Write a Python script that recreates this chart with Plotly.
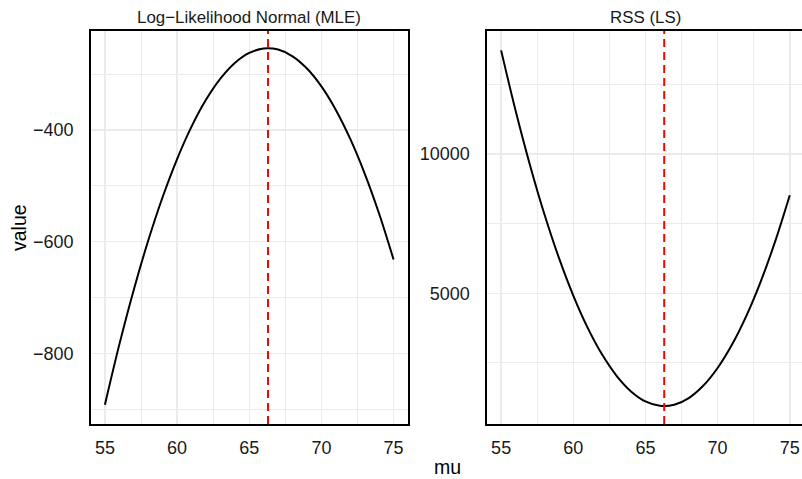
import plotly.graph_objects as go

# ---- data ----
mu = [55, 56, 57, 58, 59, 60, 61, 62, 63, 64, 65, 66, 67, 68, 69, 70, 71, 72, 73, 74, 75]
loglik = [-892, -784, -686, -598, -520, -452, -394, -346, -308, -280, -262, -254,
          -256, -268, -290, -322, -364, -416, -478, -550, -632]
rss = [13720, 11560, 9600, 7840, 6280, 4920, 3760, 2800, 2040, 1480, 1120, 960,
       1000, 1240, 1680, 2320, 3160, 4200, 5440, 6880, 8520]
mu_hat = 66.3

panel_titles = ["Log\u2212Likelihood Normal (MLE)", "RSS (LS)"]
x_ticks = [55, 60, 65, 70, 75]
x_ticktext = ["55", "60", "65", "70", "75"]
ll_ticks = [-800, -600, -400]
ll_ticktext = ["\u2212800", "\u2212600", "\u2212400"]
rss_ticks = [5000, 10000]
rss_ticktext = ["5000", "10000"]

W, H = 802, 479
FONT = "Liberation Sans, Arial, Helvetica, sans-serif"
GRID = "#EBEBEB"

# panel pixel geometry
p1_l, p1_r = 90.5, 408.0
p2_l = 486.7
top, bot = 31.0, 424.0
px_per_unit = (p1_r - p1_l) / 22.0
p2_xmax = 54 + (W - p2_l) / px_per_unit

fig = go.Figure()
fig.add_trace(go.Scatter(x=mu, y=loglik, mode="lines", line=dict(color="black", width=2, shape="spline"),
                         xaxis="x", yaxis="y", showlegend=False, hoverinfo="skip"))
fig.add_trace(go.Scatter(x=mu, y=rss, mode="lines", line=dict(color="black", width=2, shape="spline"),
                         xaxis="x2", yaxis="y2", showlegend=False, hoverinfo="skip"))

tickfont = dict(family=FONT, size=18, color="#1a1a1a")

common_x = dict(
    tickvals=x_ticks, ticktext=x_ticktext, tickfont=tickfont,
    ticks="outside", ticklen=7, tickcolor="rgba(0,0,0,0)",
    showgrid=True, gridcolor=GRID, gridwidth=1.5,
    minor=dict(tick0=57.5, dtick=5, showgrid=True, gridcolor=GRID, gridwidth=1),
    zeroline=False, showline=True, linecolor="black", linewidth=1.8,
    automargin=False, fixedrange=True,
)

fig.update_layout(
    width=W, height=H,
    margin=dict(l=0, r=0, t=0, b=0),
    paper_bgcolor="white", plot_bgcolor="white",
    xaxis=dict(domain=[p1_l / W, p1_r / W], range=[54, 76], anchor="y", mirror=True, **common_x),
    xaxis2=dict(domain=[p2_l / W, 1.0], range=[54, p2_xmax], anchor="y2", mirror=True, **common_x),
    yaxis=dict(domain=[1 - bot / H, 1 - top / H], range=[-926.6, -222.7], anchor="x",
               tickvals=ll_ticks, ticktext=ll_ticktext, tickfont=tickfont,
               ticks="outside", ticklen=11.5, tickcolor="rgba(0,0,0,0)",
               showgrid=True, gridcolor=GRID, gridwidth=1.5,
               minor=dict(tick0=-900, dtick=200, showgrid=True, gridcolor=GRID, gridwidth=1),
               zeroline=False, showline=True, mirror=True, linecolor="black", linewidth=1.8,
               automargin=False, fixedrange=True),
    yaxis2=dict(domain=[1 - bot / H, 1 - top / H], range=[309, 14415], anchor="x2",
                tickvals=rss_ticks, ticktext=rss_ticktext, tickfont=tickfont,
                ticks="outside", ticklen=11.5, tickcolor="rgba(0,0,0,0)",
                showgrid=True, gridcolor=GRID, gridwidth=1.5,
                minor=dict(tick0=2500, dtick=5000, showgrid=True, gridcolor=GRID, gridwidth=1),
                zeroline=False, showline=True, mirror=False, linecolor="black", linewidth=1.8,
                automargin=False, fixedrange=True),
    shapes=[
        dict(type="line", xref="x", yref="y domain", x0=mu_hat, x1=mu_hat, y0=0, y1=1,
             line=dict(color="#FF0000", width=2, dash="8px,5px"), layer="above"),
        dict(type="line", xref="x2", yref="y2 domain", x0=mu_hat, x1=mu_hat, y0=0, y1=1,
             line=dict(color="#FF0000", width=2, dash="8px,5px"), layer="above"),
    ],
    annotations=[
        dict(text=panel_titles[0], xref="paper", yref="paper", x=(p1_l + p1_r) / 2 / W, y=1 - 17 / H,
             xanchor="center", yanchor="middle", showarrow=False,
             font=dict(family=FONT, size=16.9, color="#1a1a1a")),
        dict(text=panel_titles[1], xref="paper", yref="paper", x=(p2_l + 804) / 2 / W, y=1 - 17 / H,
             xanchor="center", yanchor="middle", showarrow=False,
             font=dict(family=FONT, size=16.9, color="#1a1a1a")),
        dict(text="value", xref="paper", yref="paper", x=18.5 / W, y=1 - 227.5 / H,
             xanchor="center", yanchor="middle", textangle=-90, showarrow=False,
             font=dict(family=FONT, size=19.5, color="black")),
        dict(text="mu", xref="paper", yref="paper", x=447.25 / W, y=0, height=18, borderpad=0,
             xanchor="center", yanchor="bottom", valign="bottom", showarrow=False,
             font=dict(family=FONT, size=19.5, color="black")),
    ],
)

fig.write_html("out.html",
               config={"displayModeBar": False, "staticPlot": True},
               post_script="document.body.style.margin='0px';document.body.style.overflow='hidden';")
